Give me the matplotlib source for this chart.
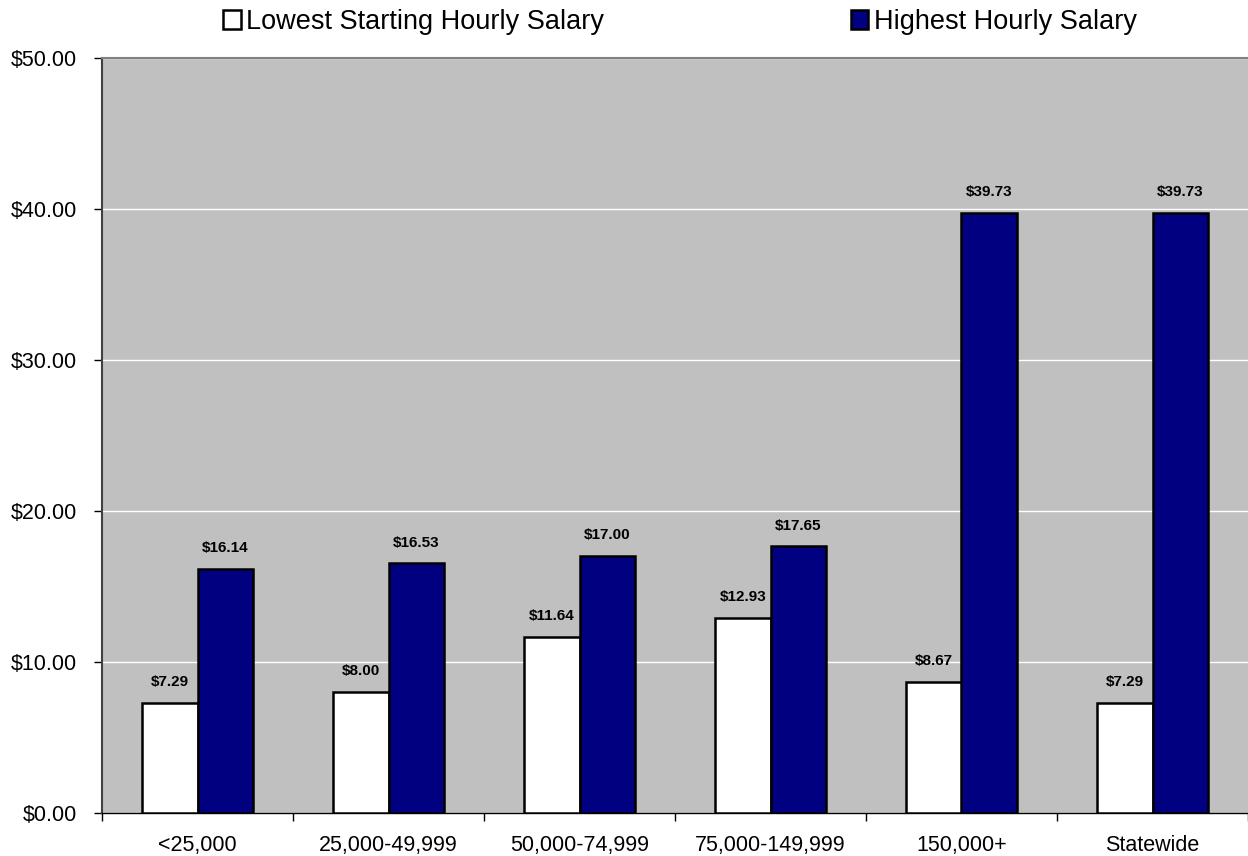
import matplotlib

matplotlib.use("Agg")

import matplotlib.pyplot as plt
import numpy as np
from matplotlib.patches import Patch
from matplotlib.ticker import FixedLocator, FuncFormatter

plt.rcParams["font.family"] = ["Liberation Sans", "DejaVu Sans"]

categories = ["<25,000", "25,000-49,999", "50,000-74,999", "75,000-149,999", "150,000+", "Statewide"]
lowest_start = [7.29, 8.00, 11.64, 12.93, 8.67, 7.29]
highest = [16.14, 16.53, 17.00, 17.65, 39.73, 39.73]
series_names = ["Lowest Starting Hourly Salary", "Highest Hourly Salary"]

navy = "#000080"
width = 0.29

fig = plt.figure(figsize=(12.48, 8.56), dpi=100)
ax = fig.add_axes([102 / 1248, 43 / 856, 1 - 102 / 1248, 755 / 856])
ax.set_facecolor("#C0C0C0")

x = np.arange(len(categories))
low_bars = ax.bar(x - width / 2, lowest_start, width, color="white", edgecolor="black", linewidth=1.8, zorder=3)
high_bars = ax.bar(x + width / 2, highest, width, color=navy, edgecolor="black", linewidth=1.8, zorder=3)

# value labels above each bar
for bars in (low_bars, high_bars):
    for b in bars:
        h = b.get_height()
        ax.annotate(f"${h:.2f}", (b.get_x() + b.get_width() / 2, h), xytext=(0, 10),
                    textcoords="offset points", ha="center", va="bottom",
                    fontsize=11, fontweight="bold")

ax.set_ylim(0, 50)
ax.set_xlim(-0.5, len(categories) - 0.5)
ax.set_yticks([0, 10, 20, 30, 40, 50])
ax.yaxis.set_major_formatter(FuncFormatter(lambda v, p: f"${v:.2f}"))
ax.yaxis.grid(True, color="white", linewidth=1.0, zorder=0)
ax.set_axisbelow(True)

ax.set_xticks(x)
ax.set_xticklabels(categories)
# tick marks sit between the category groups, as in Excel
ax.xaxis.set_minor_locator(FixedLocator(np.arange(-0.5, len(categories), 1.0)))
ax.tick_params(axis="x", which="major", length=0, pad=16, labelsize=15.5)
ax.tick_params(axis="x", which="minor", length=6, width=1, color="black", direction="out")
ax.tick_params(axis="y", length=6, width=1, color="black", pad=12, labelsize=15.5)

ax.spines["top"].set_color("#808080")
ax.spines["top"].set_linewidth(1.5)
ax.spines["left"].set_color("#404040")
ax.spines["left"].set_linewidth(1.5)
ax.spines["bottom"].set_color("black")
ax.spines["bottom"].set_linewidth(1.0)
ax.spines["right"].set_visible(False)

handles = [Patch(facecolor="white", edgecolor="black", linewidth=1.8),
           Patch(facecolor=navy, edgecolor="black", linewidth=1.8)]
fig.legend(handles, series_names, loc="center", bbox_to_anchor=(680 / 1248, 1 - 22 / 856),
           ncol=2, frameon=False, fontsize=19.5, handlelength=0.65, handleheight=0.65,
           handletextpad=0.2, columnspacing=9.1)

fig.savefig("out.png", dpi=100)
